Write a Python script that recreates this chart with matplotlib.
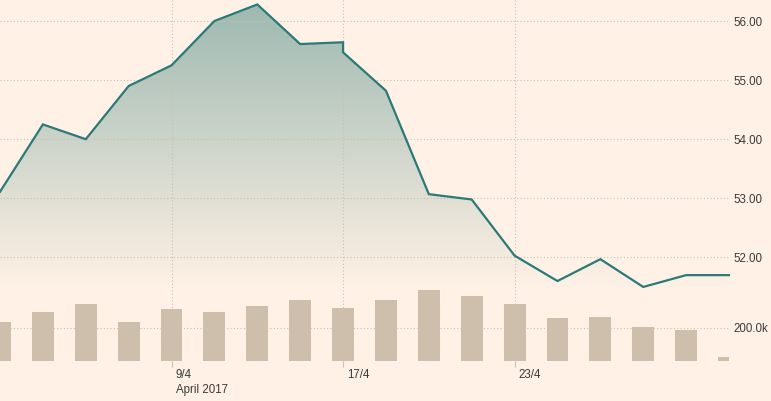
import numpy as np
import matplotlib
matplotlib.use("Agg")
import matplotlib.pyplot as plt
import matplotlib.transforms as mtrans
from matplotlib.colors import to_rgb

# ---- data ----
price_t = [0, 1, 2, 3, 4, 5, 6, 7, 8, 8, 9, 10, 11, 12, 13, 14, 15, 16, 17]
price = [53.11, 54.25, 54.00, 54.90, 55.25, 56.00, 56.28, 55.61, 55.64, 55.47,
         54.82, 53.07, 52.98, 52.03, 51.60, 51.97, 51.50, 51.70, 51.70]
vol_t = list(range(18))
volume = [236e3, 297e3, 345e3, 236e3, 315e3, 297e3, 333e3, 370e3, 321e3,
          370e3, 430e3, 394e3, 345e3, 261e3, 267e3, 206e3, 188e3, 24e3]
xtick_pos = [4, 8, 12]
xtick_labels = ["9/4\nApril 2017", "17/4", "23/4"]
price_ticks = [52, 53, 54, 55, 56]
vol_ticks = [200e3]
vol_tick_labels = ["200.0k"]

BG = "#fff1e5"
LINE = "#2b7a78"
FILL_TOP = "#9cb8b0"
BAR = "#cebfac"
GRID = "#c9bfb5"
TXT = "#3a3a3a"

plt.rcParams["font.family"] = ["Liberation Sans", "DejaVu Sans"]
plt.rcParams["font.size"] = 8

W, H = 771, 401
fig = plt.figure(figsize=(W / 100, H / 100), dpi=100)
fig.patch.set_facecolor(BG)
ax = fig.add_axes([0, 40 / H, 729 / W, 361 / H])
ax.set_facecolor(BG)

ax.set_xlim(0, 17)
p_lo, p_hi = 56 - 340 / 59.1, 56 + 21 / 59.1
ax.set_ylim(p_lo, p_hi)

# gradient fill under the line
fade_to = 51.5
nrow = 256
ys = np.linspace(p_hi, p_lo, nrow)
frac = np.clip((p_hi - ys) / (p_hi - fade_to), 0, 1)[:, None]
top = np.array(to_rgb(FILL_TOP))
bg = np.array(to_rgb(BG))
grad = (1 - frac) * top + frac * bg
img = np.repeat(grad[:, None, :], 2, axis=1)
im = ax.imshow(img, extent=[0, 17, p_lo, p_hi], aspect="auto", origin="upper",
               zorder=0.2, interpolation="bilinear")
poly = ax.fill_between(price_t, price, p_lo, facecolor="none", edgecolor="none")
im.set_clip_path(poly.get_paths()[0], transform=ax.transData)

ax.plot(price_t, price, color=LINE, lw=1.6, zorder=3, solid_joinstyle="miter",
        clip_on=False)

# volume axis
ax2 = ax.twinx()
ax2.set_ylim(0, 361 / 33 * 200e3)
ax2.bar(vol_t, volume, width=0.51, color=BAR, zorder=2)
ax2.set_yticks(vol_ticks)
ax2.set_yticklabels(vol_tick_labels)
ax2.set_axisbelow(True)
ax2.grid(True, axis="y", color=GRID, lw=0.8, linestyle=(0, (1, 2)))
ax2.tick_params(axis="y", length=0, pad=3, colors=TXT, labelsize=8.3)
for s in ax2.spines.values():
    s.set_visible(False)
ax2.set_xlim(0, 17)

# price axis styling (after twinx, which moves ticks left)
ax.set_axisbelow(True)
ax.yaxis.tick_right()
ax.yaxis.set_label_position("right")
ax.set_yticks(price_ticks)
ax.set_yticklabels([f"{v:.2f}" for v in price_ticks])
ax.set_xticks(xtick_pos)
ax.set_xticklabels(xtick_labels)
ax.grid(True, color=GRID, lw=0.8, linestyle=(0, (1, 2)))
ax.tick_params(axis="y", length=0, pad=3, colors=TXT, labelsize=8.3)
ax.tick_params(axis="x", length=4.5, width=0.8, color=GRID, pad=1,
               colors=TXT, labelsize=8.3)
offset = mtrans.ScaledTranslation(4 / 100, 0, fig.dpi_scale_trans)
for lab in ax.get_xticklabels():
    lab.set_ha("left")
    lab.set_linespacing(1.4)
    lab.set_color(TXT)
    lab.set_transform(lab.get_transform() + offset)
for s in ax.spines.values():
    s.set_visible(False)

fig.savefig("out.png", dpi=100, facecolor=BG)
